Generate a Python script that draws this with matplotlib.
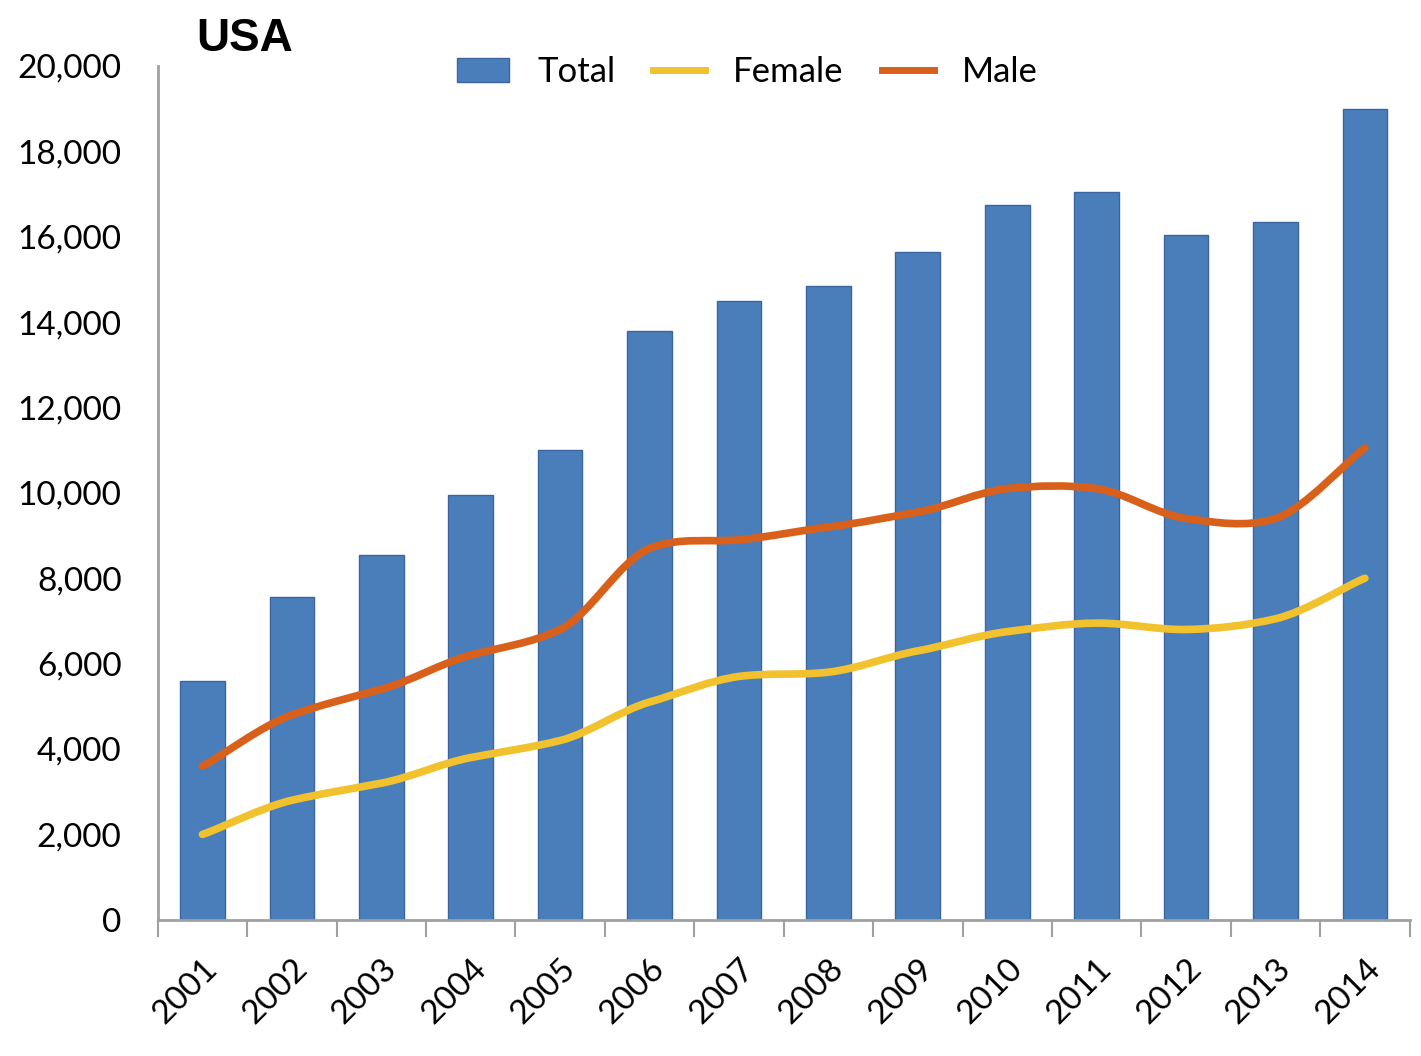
import numpy as np
import matplotlib.pyplot as plt
from matplotlib.path import Path
from matplotlib.patches import PathPatch
from matplotlib.lines import Line2D
from matplotlib.patches import Patch

years = ['2001', '2002', '2003', '2004', '2005', '2006', '2007',
         '2008', '2009', '2010', '2011', '2012', '2013', '2014']
total = [5600, 7550, 8550, 9950, 11000, 13800, 14500,
         14850, 15650, 16750, 17050, 16050, 16350, 19000]
female = [2000, 2800, 3200, 3800, 4200, 5100, 5700,
          5800, 6300, 6750, 6950, 6800, 7050, 8000]
male = [3600, 4800, 5400, 6200, 6800, 8700, 8900,
        9200, 9550, 10100, 10100, 9400, 9400, 11050]

plt.rcParams['font.family'] = ['Lato', 'DejaVu Sans']

bar_col = '#4a7ebb'
fem_col = '#f2c12e'
male_col = '#d9601a'


def smooth_path(x, y, k=0.8):
    # excel style smoothed line: catmull-rom as cubic bezier (k damps overshoot)
    x = np.asarray(x, float)
    y = np.asarray(y, float)
    verts = [(x[0], y[0])]
    codes = [Path.MOVETO]
    n = len(x)
    for i in range(n - 1):
        i0 = max(i - 1, 0)
        i3 = min(i + 2, n - 1)
        c1 = (x[i] + (x[i + 1] - x[i0]) / 6, y[i] + k * (y[i + 1] - y[i0]) / 6)
        c2 = (x[i + 1] - (x[i3] - x[i]) / 6, y[i + 1] - k * (y[i3] - y[i]) / 6)
        verts += [c1, c2, (x[i + 1], y[i + 1])]
        codes += [Path.CURVE4] * 3
    return Path(verts, codes)


fig = plt.figure(figsize=(14.21, 10.56), dpi=100)
ax = fig.add_axes([0.111, 0.129, 0.881, 0.8085])

pos = np.arange(len(years))
ax.bar(pos, total, width=0.5, color=bar_col, edgecolor='#3a65a0', linewidth=1, zorder=2)
for vals, col in [(female, fem_col), (male, male_col)]:
    ax.add_patch(PathPatch(smooth_path(pos, vals), facecolor='none', edgecolor=col,
                           linewidth=5.5, capstyle='round', joinstyle='round', zorder=3))

ax.set_xlim(-0.5, len(years) - 0.5)
ax.set_ylim(0, 20000)
ax.set_yticks(range(0, 20001, 2000))
ax.set_yticklabels([f'{v:,}' for v in range(0, 20001, 2000)])
ax.set_xticks(pos)
ax.set_xticklabels(years, rotation=45, ha='right', rotation_mode='anchor')
ax.set_xticks(np.arange(-0.5, len(years)), minor=True)
ax.tick_params(axis='x', which='major', length=0, labelsize=24, pad=24)
ax.tick_params(axis='x', which='minor', length=12, color='#a0a0a0', width=1.5)
ax.tick_params(axis='y', length=0, labelsize=24, pad=26)
for s in ['top', 'right']:
    ax.spines[s].set_visible(False)
for s in ['left', 'bottom']:
    ax.spines[s].set_color('#a0a0a0')
    ax.spines[s].set_linewidth(2)

fig.text(0.138, 0.963, 'USA', fontsize=33, fontweight='bold',
         family=['Liberation Sans', 'DejaVu Sans'], va='center', ha='left')

handles = [Patch(facecolor=bar_col, edgecolor='#3a65a0'),
           Line2D([0], [0], color=fem_col, lw=5),
           Line2D([0], [0], color=male_col, lw=5)]
fig.legend(handles, ['Total', 'Female', 'Male'], loc='center', ncol=3,
           bbox_to_anchor=(0.526, 0.932), frameon=False, fontsize=25,
           handlelength=1.5, columnspacing=1.1, handletextpad=0.8)

fig.savefig('out.png', dpi=100, facecolor='white')
